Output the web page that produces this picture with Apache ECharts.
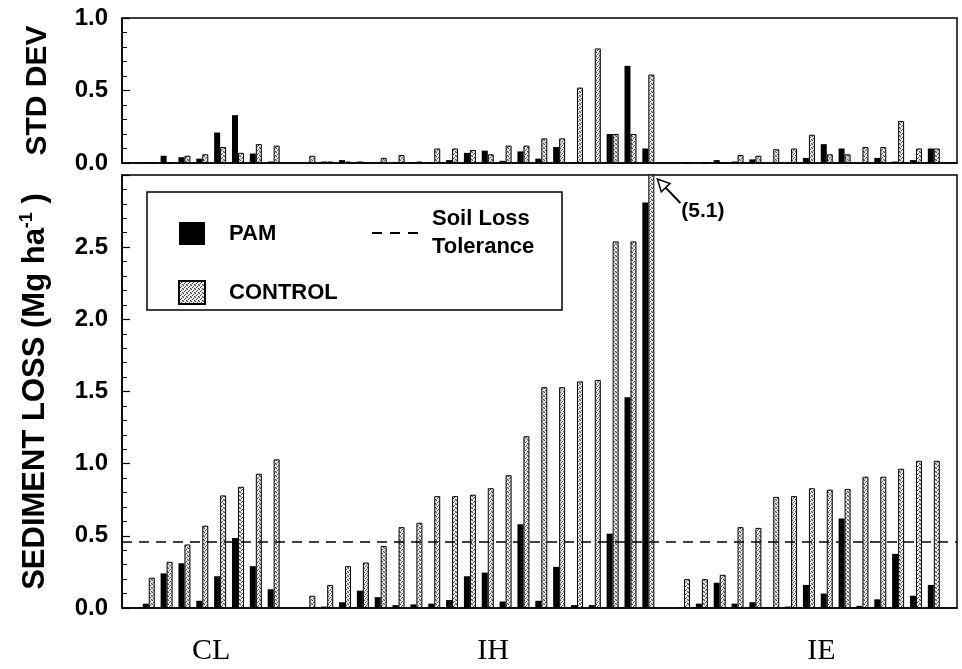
<!DOCTYPE html>
<html><head><meta charset="utf-8">
<script src="https://cdn.jsdelivr.net/npm/echarts@6/dist/echarts.min.js"></script>
<style>html,body{margin:0;padding:0;background:#fff}#c{width:962px;height:669px}</style>
</head><body><div id="c"></div>
<script>
// ---------- data ----------
const groups = ['CL', 'IH', 'IE'];

const pamLossCL  = [0.03, 0.24, 0.31, 0.05, 0.22, 0.485, 0.29, 0.13];
const ctrlLossCL = [0.21, 0.32, 0.44, 0.57, 0.78, 0.84, 0.93, 1.03];
const pamStdCL   = [0.005, 0.05, 0.04, 0.03, 0.21, 0.33, 0.065, 0.01];
const ctrlStdCL  = [0.0, 0.0, 0.05, 0.06, 0.11, 0.07, 0.13, 0.12];

const pamLossIH  = [0.005, 0.01, 0.04, 0.12, 0.075, 0.02, 0.025, 0.03, 0.055, 0.22, 0.245, 0.045, 0.58, 0.05, 0.285, 0.02, 0.02, 0.515, 1.46, 2.81];
const ctrlLossIH = [0.085, 0.16, 0.29, 0.315, 0.43, 0.56, 0.59, 0.775, 0.775, 0.785, 0.83, 0.92, 1.19, 1.53, 1.53, 1.57, 1.58, 2.54, 2.54, 5.1];
const pamStdIH   = [0.0, 0.01, 0.02, 0.01, 0.005, 0.005, 0.005, 0.005, 0.02, 0.07, 0.085, 0.015, 0.08, 0.03, 0.11, 0.005, 0.007, 0.20, 0.67, 0.10];
const ctrlStdIH  = [0.05, 0.01, 0.01, 0.005, 0.035, 0.055, 0.01, 0.10, 0.10, 0.09, 0.06, 0.12, 0.12, 0.17, 0.17, 0.52, 0.79, 0.20, 0.20, 0.61];

const pamLossIE  = [0.005, 0.03, 0.175, 0.03, 0.04, 0.005, 0.01, 0.16, 0.10, 0.62, 0.015, 0.06, 0.375, 0.085, 0.16];
const ctrlLossIE = [0.20, 0.20, 0.23, 0.56, 0.555, 0.77, 0.775, 0.83, 0.82, 0.825, 0.91, 0.91, 0.965, 1.02, 1.02];
const pamStdIE   = [0.0, 0.0, 0.02, 0.01, 0.025, 0.0, 0.005, 0.035, 0.13, 0.10, 0.0, 0.035, 0.01, 0.02, 0.10];
const ctrlStdIE  = [0.0, 0.0, 0.0, 0.055, 0.05, 0.095, 0.10, 0.195, 0.06, 0.06, 0.11, 0.11, 0.29, 0.10, 0.10];

const tolerance = 0.46;
const stdTicks = [0.0, 0.5, 1.0];
const lossTicks = [0.0, 0.5, 1.0, 1.5, 2.0, 2.5];

// ---------- layout helpers ----------
const groupLens = [pamLossCL.length, pamLossIH.length, pamLossIE.length];
const groupStart = [];
groupLens.forEach((n, i) => groupStart.push(i === 0 ? 0 : groupStart[i - 1] + groupLens[i - 1] + 1));
const labelPos = [3.5, 19.3, 37.7];

function toPairs(arrs) {
  const out = [];
  arrs.forEach((arr, g) => arr.forEach((v, i) => out.push([groupStart[g] + i, v])));
  return out;
}

function stipple() {
  const c = document.createElement('canvas');
  c.width = 4; c.height = 4;
  const g = c.getContext('2d');
  g.fillStyle = '#eeeeee'; g.fillRect(0, 0, 4, 4);
  g.fillStyle = '#444';
  g.fillRect(0, 0, 1, 1); g.fillRect(2, 1, 1, 1); g.fillRect(1, 2, 1, 1); g.fillRect(3, 3, 1, 1);
  g.fillStyle = '#aaa';
  g.fillRect(3, 0, 1, 1); g.fillRect(0, 3, 1, 1);
  return c;
}
const pat = { image: stipple(), repeat: 'repeat' };

const FONT = 'Liberation Sans, Arial, sans-serif';
const xMin = -1.5, xMax = 45.3;

function yAx(grid, max, ticks, nameCfg) {
  return Object.assign({
    type: 'value', gridIndex: grid, min: 0, max: max, interval: 0.5,
    axisLine: { show: true, onZero: false, lineStyle: { color: '#000', width: 1.5 } },
    axisTick: { show: true, inside: true, length: 8, lineStyle: { color: '#000', width: 1.2 } },
    minorTick: { show: true, splitNumber: 5, length: 5, lineStyle: { color: '#000', width: 1 } },
    splitLine: { show: false },
    axisLabel: {
      color: '#000', fontFamily: FONT, fontWeight: 'bold', fontSize: 24, margin: 14,
      formatter: v => ticks.some(t => Math.abs(t - v) < 1e-6) ? v.toFixed(1) : ''
    },
    nameLocation: 'middle'
  }, nameCfg);
}

const chart = echarts.init(document.getElementById('c'), null, { renderer: 'canvas' });
const option = {
  animation: false,
  backgroundColor: '#fff',
  grid: [
    { left: 122, right: 5, top: 18, height: 145, show: true, borderColor: '#000', borderWidth: 1.5 },
    { left: 122, right: 5, top: 175, bottom: 61, show: true, borderColor: '#000', borderWidth: 1.5 }
  ],
  xAxis: [
    { type: 'value', gridIndex: 0, min: xMin, max: xMax,
      axisLine: { onZero: false, lineStyle: { color: '#000', width: 1.5 } }, axisTick: { show: false },
      axisLabel: { show: false }, splitLine: { show: false } },
    { type: 'value', gridIndex: 1, min: xMin, max: xMax,
      axisLine: { onZero: false, lineStyle: { color: '#000', width: 1.5 } }, axisTick: { show: false },
      splitLine: { show: false },
      axisLabel: {
        customValues: labelPos,
        formatter: v => groups[labelPos.findIndex(p => Math.abs(p - v) < 1e-6)] || '',
        fontFamily: 'Liberation Serif, Times New Roman, serif', fontSize: 30, color: '#000', margin: 28
      } }
  ],
  yAxis: [
    yAx(0, 1, stdTicks, { name: 'STD DEV', nameGap: 69,
      nameTextStyle: { fontFamily: FONT, fontWeight: 'bold', fontSize: 30, color: '#000' } }),
    yAx(1, 3, lossTicks, { name: '{t|SEDIMENT LOSS (Mg ha}{s|-1}{t| )}', nameGap: 69,
      nameTextStyle: { color: '#000',
        rich: {
          t: { fontFamily: FONT, fontWeight: 'bold', fontSize: 31, color: '#000' },
          s: { fontFamily: FONT, fontWeight: 'bold', fontSize: 18, color: '#000', padding: [0, 0, 17, 0] }
        } } })
  ],
  legend: [
    { data: ['PAM', 'CONTROL'], orient: 'vertical', left: 173, top: 217,
      itemWidth: 26, itemHeight: 23, itemGap: 35, icon: 'rect', selectedMode: false,
      formatter: n => '{a|' + n + '}',
      textStyle: { rich: { a: { fontFamily: FONT, fontWeight: 'bold', fontSize: 22, color: '#000', padding: [0, 0, 0, 19] } } } },
    { data: [{ name: 'Soil Loss Tolerance',
        icon: 'path://M0,0h10v2h-10z M18,0h10v2h-10z M36,0h10v2h-10z',
        itemStyle: { color: '#000' } }],
      left: 367, top: 203, itemWidth: 46, itemHeight: 2,
      selectedMode: false,
      formatter: () => '{a|Soil Loss}\n{a|Tolerance}',
      textStyle: { rich: { a: { fontFamily: FONT, fontWeight: 'bold', fontSize: 22, lineHeight: 28, color: '#000', padding: [0, 0, 0, 9] } } } }
  ],
  series: [
    { name: 'PAM', type: 'bar', xAxisIndex: 0, yAxisIndex: 0, barWidth: 6, barGap: '0%',
      data: toPairs([pamStdCL, pamStdIH, pamStdIE]), itemStyle: { color: '#000' } },
    { name: 'CONTROL', type: 'bar', xAxisIndex: 0, yAxisIndex: 0, barWidth: 6, barGap: '0%',
      data: toPairs([ctrlStdCL, ctrlStdIH, ctrlStdIE]),
      itemStyle: { color: pat, borderColor: '#000', borderWidth: 1 } },
    { name: 'PAM', type: 'bar', xAxisIndex: 1, yAxisIndex: 1, barWidth: 6, barGap: '0%',
      data: toPairs([pamLossCL, pamLossIH, pamLossIE]), itemStyle: { color: '#000' } },
    { name: 'CONTROL', type: 'bar', xAxisIndex: 1, yAxisIndex: 1, barWidth: 6, barGap: '0%',
      data: toPairs([ctrlLossCL, ctrlLossIH, ctrlLossIE]),
      itemStyle: { color: pat, borderColor: '#000', borderWidth: 1 } },
    { name: 'Soil Loss Tolerance', type: 'line', xAxisIndex: 1, yAxisIndex: 1, data: [],
      symbol: 'none', color: '#000', lineStyle: { color: '#000', width: 1.5, type: [10, 7] }, itemStyle: { color: '#000' },
      markLine: { silent: true, symbol: 'none', label: { show: false },
        lineStyle: { color: '#000', width: 1.5, type: [10, 7] },
        data: [{ yAxis: tolerance }] } }
  ]
};
chart.setOption(option);

// legend box + annotation for the clipped bar
const lastIH = groupStart[1] + ctrlLossIH.length - 1;
const tip = chart.convertToPixel({ gridIndex: 1 }, [lastIH, 3.0]);
const tx = tip[0] + 9, ty = tip[1] + 4;          // arrow tip
const bx = tx + 23, by = ty + 24;                 // arrow tail
const ang = Math.atan2(ty - by, tx - bx);
const hl = 12, hw = 6;
const baseX = tx - hl * Math.cos(ang), baseY = ty - hl * Math.sin(ang);
const px = -Math.sin(ang) * hw, py = Math.cos(ang) * hw;
chart.setOption({
  graphic: [
    { type: 'rect', shape: { x: 147, y: 192, width: 415, height: 118 },
      style: { fill: 'none', stroke: '#000', lineWidth: 1.5 }, z: 10 },
    { type: 'line', shape: { x1: bx, y1: by, x2: baseX, y2: baseY },
      style: { stroke: '#000', lineWidth: 2 }, z: 10 },
    { type: 'polygon', shape: { points: [[tx, ty], [baseX + px, baseY + py], [baseX - px, baseY - py]] },
      style: { fill: '#fff', stroke: '#000', lineWidth: 1.5 }, z: 10 },
    { type: 'text', x: bx + 1, y: by + 8,
      style: { text: '(' + ctrlLossIH[ctrlLossIH.length - 1].toFixed(1) + ')', fill: '#000',
        font: 'bold 21px Liberation Sans, Arial, sans-serif', verticalAlign: 'middle' }, z: 10 }
  ]
});
</script>
</body></html>
